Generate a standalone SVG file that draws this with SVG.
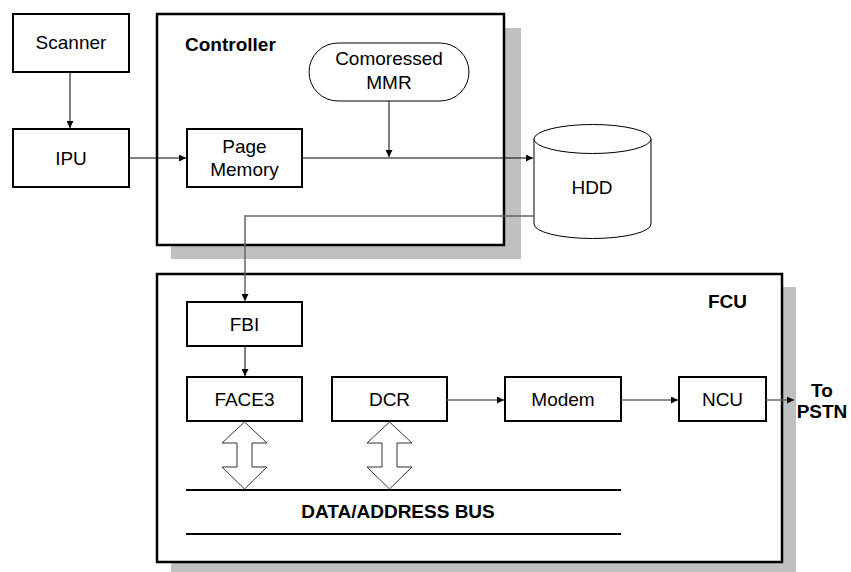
<svg xmlns="http://www.w3.org/2000/svg" width="851" height="572" viewBox="0 0 851 572">
<style>
text{font-family:"Liberation Sans",Arial,sans-serif;font-size:19px;fill:#000}
.c{text-anchor:middle}
.b{font-weight:bold}
.box{fill:#fff;stroke:#000;stroke-width:2}
.big{fill:#fff;stroke:#000;stroke-width:2.5}
.sh{fill:#c0c0c0}
.thin{fill:#fff;stroke:#000;stroke-width:1}
.ln{fill:none;stroke:#000;stroke-width:1}
.gl{fill:none;stroke:#666;stroke-width:1.5}
.dbl{fill:#fff;stroke:#333;stroke-width:1}
.bus{stroke:#000;stroke-width:2}
</style>
<defs>
<marker id="ah" viewBox="0 0 10 10" refX="10" refY="5" markerWidth="9" markerHeight="7" markerUnits="userSpaceOnUse" orient="auto">
<path d="M0,0 L10,5 L0,10 z" fill="#000"/>
</marker>
</defs>
<g id="controller">
<rect class="sh" x="171" y="28" width="350" height="231"/>
<rect class="big" x="157" y="14" width="347" height="231"/>
<text class="b" x="185" y="51">Controller</text>
</g>
<g id="fcu">
<rect class="sh" x="171" y="287" width="625" height="285"/>
<rect class="big" x="157" y="274" width="625" height="288"/>
<text class="b" x="708" y="308">FCU</text>
</g>
<g id="scanner"><rect class="box" x="13" y="14" width="116" height="58"/><text class="c" x="71" y="49">Scanner</text></g>
<g id="ipu"><rect class="box" x="13" y="129" width="116" height="58"/><text class="c" x="71" y="165">IPU</text></g>
<g id="pagememory"><rect class="box" x="187" y="129" width="115" height="58"/><text class="c" x="244.5" y="153">Page</text><text class="c" x="244.5" y="176">Memory</text></g>
<g id="mmr"><rect class="thin" x="309" y="43" width="160" height="58" rx="29" ry="29"/><text class="c" x="389" y="65">Comoressed</text><text class="c" x="389" y="89">MMR</text></g>
<g id="hdd">
<path class="thin" d="M534,139 V224 A58.5,14.5 0 0 0 651,224 V139"/>
<ellipse class="thin" cx="592.5" cy="139" rx="58.5" ry="14.5"/>
<text class="c" x="592" y="194">HDD</text>
</g>
<g id="fbi"><rect class="box" x="187" y="302" width="115" height="44"/><text class="c" x="244.5" y="331">FBI</text></g>
<g id="face3"><rect class="box" x="187" y="377" width="115" height="44"/><text class="c" x="244.5" y="406">FACE3</text></g>
<g id="dcr"><rect class="box" x="332" y="377" width="115" height="44"/><text class="c" x="389.5" y="406">DCR</text></g>
<g id="modem"><rect class="box" x="505" y="377" width="116" height="44"/><text class="c" x="563" y="406">Modem</text></g>
<g id="ncu"><rect class="box" x="679" y="377" width="87" height="44"/><text class="c" x="722.5" y="406">NCU</text></g>
<g id="bus">
<line class="bus" x1="186" y1="490" x2="621" y2="490"/>
<line class="bus" x1="186" y1="534" x2="621" y2="534"/>
<text class="c b" x="398" y="518">DATA/ADDRESS BUS</text>
</g>
<g id="pstn"><text class="c b" x="822" y="397">To</text><text class="c b" x="822" y="418">PSTN</text></g>
<g id="connectors">
<line class="ln" x1="70" y1="72" x2="70" y2="128" marker-end="url(#ah)"/>
<line class="ln" x1="129" y1="158" x2="186" y2="158" marker-end="url(#ah)"/>
<line class="ln" x1="389" y1="101" x2="389" y2="157" marker-end="url(#ah)"/>
<line class="ln" x1="302" y1="158" x2="533" y2="158" marker-end="url(#ah)"/>
<path class="gl" d="M534,216 H245 V301" marker-end="url(#ah)"/>
<line class="ln" x1="245" y1="346" x2="245" y2="376" marker-end="url(#ah)"/>
<line class="gl" x1="447" y1="400" x2="504" y2="400" marker-end="url(#ah)"/>
<line class="gl" x1="621" y1="400" x2="678" y2="400" marker-end="url(#ah)"/>
<line class="gl" x1="766" y1="400" x2="794" y2="400" marker-end="url(#ah)"/>
<polygon class="dbl" points="244.5,422 222,443 237,443 237,467 222,467 244.5,489 267,467 252,467 252,443 267,443"/>
<polygon class="dbl" points="389.5,422 367,443 382,443 382,467 367,467 389.5,489 412,467 397,467 397,443 412,443"/>
</g>
</svg>
